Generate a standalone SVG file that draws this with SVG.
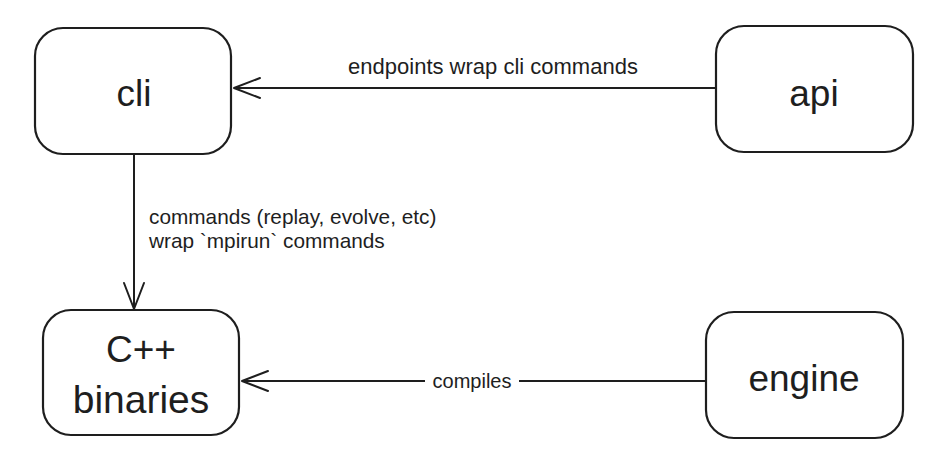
<svg xmlns="http://www.w3.org/2000/svg" width="946" height="466" viewBox="0 0 946 466">
<style>
.box{fill:#ffffff;stroke:#1e1e1e;stroke-width:2.2}
.edge{fill:none;stroke:#1e1e1e;stroke-width:2}
.nl{font-family:"Liberation Sans",Arial,sans-serif;font-size:37px;fill:#1e1e1e;text-anchor:middle;dominant-baseline:central}
.el{font-family:"Liberation Sans",Arial,sans-serif;font-size:20px;fill:#1e1e1e}
</style>
<defs>
<marker id="ah" viewBox="0 0 30 24" refX="28" refY="12" markerWidth="30" markerHeight="24" markerUnits="userSpaceOnUse" orient="auto">
<path d="M2,2 L28,12 L2,22" fill="none" stroke="#1e1e1e" stroke-width="2" stroke-linecap="round" stroke-linejoin="round"/>
</marker>
</defs>
<rect width="946" height="466" fill="#ffffff"/>
<g id="connectors">
<line class="edge" x1="716" y1="88" x2="234" y2="88" marker-end="url(#ah)"/>
<text class="el" x="493" y="74" text-anchor="middle" style="font-size:22px">endpoints wrap cli commands</text>
<line class="edge" x1="134" y1="155" x2="134" y2="309" marker-end="url(#ah)"/>
<text class="el" x="149" y="224" style="font-size:20.8px">commands (replay, evolve, etc)</text>
<text class="el" x="149" y="248" style="font-size:20.8px">wrap `mpirun` commands</text>
<line class="edge" x1="425" y1="381" x2="242" y2="381" marker-end="url(#ah)"/>
<line class="edge" x1="519" y1="381" x2="706" y2="381"/>
<text class="el" x="472" y="388" text-anchor="middle">compiles</text>
</g>
<g id="cli">
<rect class="box" x="35" y="28" width="196" height="126" rx="28"/>
<text class="nl" x="134" y="93">cli</text>
</g>
<g id="api">
<rect class="box" x="716" y="26" width="197" height="126" rx="28"/>
<text class="nl" x="814" y="93">api</text>
</g>
<g id="cpp">
<rect class="box" x="43" y="310" width="196" height="125" rx="28"/>
<text class="nl" x="141" y="349">C++</text>
<text class="nl" x="141" y="399" style="font-size:39px">binaries</text>
</g>
<g id="engine">
<rect class="box" x="706" y="312" width="197" height="126" rx="28"/>
<text class="nl" x="804" y="378">engine</text>
</g>
</svg>
